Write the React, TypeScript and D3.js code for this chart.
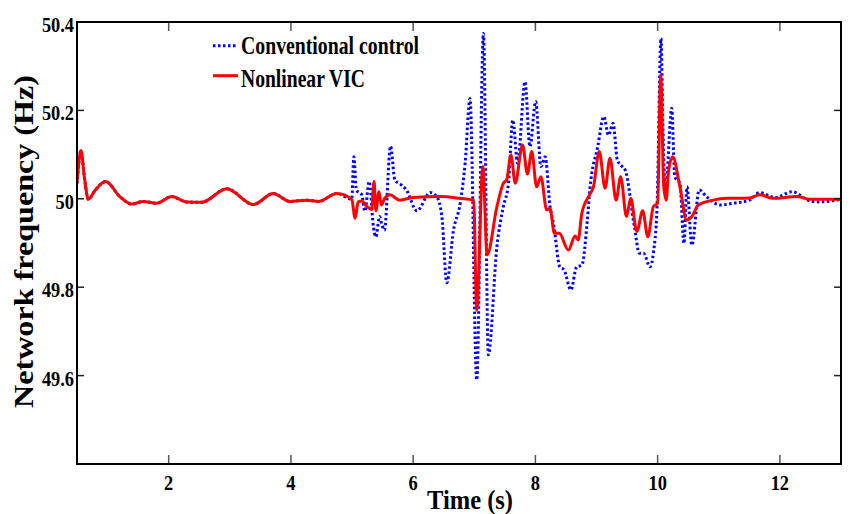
import React, { useEffect } from "react";
import * as d3 from "d3";

// ---- data (time in s, frequency in Hz) ----
const baseline: [number, number][] = [
  [0.5, 50.035], [0.565, 50.109], [0.62, 50.05], [0.685, 49.999], [0.8, 50.02],
  [0.97, 50.039], [1.2, 50.005], [1.395, 49.988], [1.585, 49.994], [1.8, 49.99],
  [2.05, 50.005], [2.29, 49.993], [2.54, 49.992], [2.95, 50.023], [3.385, 49.987],
  [3.71, 50.012], [3.985, 49.994], [4.26, 49.997], [4.45, 49.994], [4.75, 50.012],
  [4.995, 49.999],
];

const conventionalTail: [number, number][] = [
  [5.03, 50.095], [5.07, 50.02], [5.16, 50.009], [5.21, 49.972], [5.28, 50.039],
  [5.35, 49.937], [5.39, 49.914], [5.45, 49.96], [5.49, 49.941], [5.53, 49.929],
  [5.63, 50.119], [5.7, 50.043], [5.81, 50.031], [5.89, 50.02], [6.06, 49.973],
  [6.28, 50.014], [6.385, 50.005], [6.47, 49.96], [6.55, 49.81], [6.66, 49.929],
  [6.77, 49.99], [6.85, 50.08], [6.93, 50.227], [7.04, 49.59], [7.15, 50.374],
  [7.23, 49.647], [7.37, 49.892], [7.475, 49.982], [7.56, 50.035], [7.63, 50.178],
  [7.71, 50.08], [7.83, 50.265], [7.91, 50.118], [8.005, 50.22], [8.09, 50.073],
  [8.16, 50.095], [8.24, 49.982], [8.295, 49.945], [8.4, 49.846], [8.47, 49.839],
  [8.58, 49.794], [8.675, 49.846], [8.76, 49.85], [8.85, 49.952], [8.89, 50.02],
  [9.02, 50.118], [9.12, 50.186], [9.195, 50.144], [9.27, 50.171], [9.34, 50.088],
  [9.42, 50.073], [9.47, 50.065], [9.62, 49.937], [9.7, 49.877], [9.77, 49.877],
  [9.875, 49.846], [9.93, 49.877], [9.99, 49.982], [10.055, 50.363], [10.09, 50.14],
  [10.13, 50.012], [10.16, 50.065], [10.23, 50.205], [10.28, 50.05], [10.365, 50.035],
  [10.43, 49.899], [10.48, 50.027], [10.56, 49.895], [10.68, 50.02], [10.8, 50.005],
  [11.02, 49.986], [11.24, 49.99], [11.5, 49.997], [11.67, 50.014], [11.93, 50.003],
  [12.2, 50.016], [12.5, 49.995], [12.66, 49.993], [13.0, 49.999],
];

const nonlinearTail: [number, number][] = [
  [5.05, 49.956], [5.1, 49.993], [5.16, 49.995], [5.24, 49.983], [5.32, 49.976],
  [5.36, 50.039], [5.39, 49.973], [5.44, 50.016], [5.48, 49.986], [5.53, 50.0],
  [5.62, 50.009], [5.78, 49.997], [6.0, 50.003], [6.44, 50.005], [6.77, 50.001],
  [6.99, 49.997], [7.04, 49.748], [7.14, 50.073], [7.21, 49.873], [7.37, 49.982],
  [7.475, 50.035], [7.53, 50.043], [7.6, 50.099], [7.67, 50.035], [7.79, 50.122],
  [7.87, 50.056], [7.94, 50.107], [8.02, 50.027], [8.09, 50.05], [8.185, 49.975],
  [8.24, 49.978], [8.31, 49.922], [8.39, 49.922], [8.54, 49.884], [8.65, 49.916],
  [8.7, 49.907], [8.76, 49.967], [8.89, 50.01], [8.95, 50.027], [9.045, 50.107],
  [9.14, 50.024], [9.22, 50.092], [9.32, 49.997], [9.395, 50.05], [9.49, 49.96],
  [9.56, 50.001], [9.66, 49.926], [9.755, 49.973], [9.84, 49.914], [9.93, 49.982],
  [10.0, 49.99], [10.05, 50.28], [10.1, 50.027], [10.14, 49.997], [10.18, 50.065],
  [10.245, 50.095], [10.365, 50.027], [10.475, 49.952], [10.56, 49.96], [10.665, 49.986],
  [10.91, 49.997], [11.13, 50.001], [11.51, 50.002], [11.67, 50.009], [11.89, 50.001],
  [12.275, 50.005], [12.49, 49.999], [13.0, 49.999],
];

const conventional = [...baseline, ...conventionalTail];
const nonlinear = [...baseline, ...nonlinearTail];

const xTicks = [2, 4, 6, 8, 10, 12];
const yTicks = [49.6, 49.8, 50, 50.2, 50.4];
const seriesLabels = ["Conventional control", "Nonlinear VIC"];
const xTitle = "Time (s)";
const yTitle = "Network frequency (Hz)";

const W = 856;
const H = 514;
const left = 77, right = 841, top = 22, bottom = 464;
const FONT = "'Liberation Serif', 'Times New Roman', serif";

const fmt = (v: number) => (Number.isInteger(v) ? String(v) : v.toFixed(1));
// condensed width of a numeric label (digits ~9.2px, point ~4.5px)
const labelWidth = (s: string) =>
  s.split("").reduce((acc, c) => acc + (c === "." ? 4.5 : 9.2), 0);

export default function App() {
  useEffect(() => {
    document.body.style.margin = "0";
  }, []);

  const x = d3.scaleLinear().domain([0.5, 13]).range([left, right]);
  const y = d3.scaleLinear().domain([49.4, 50.4]).range([bottom, top]);
  const line = d3
    .line<[number, number]>()
    .x((d) => x(d[0]))
    .y((d) => y(d[1]))
    .curve(d3.curveMonotoneX);

  return (
    <svg width={W} height={H} style={{ display: "block", background: "#fff" }}>
      <defs>
        <clipPath id="plotclip">
          <rect x={left} y={top} width={right - left} height={bottom - top} />
        </clipPath>
      </defs>
      <rect x={0} y={0} width={W} height={H} fill="#fff" />

      <g clipPath="url(#plotclip)">
        <path
          d={line(conventional) || ""}
          fill="none"
          stroke="#0000ff"
          strokeWidth={3}
          strokeDasharray="2.5 2.5"
        />
        <path
          d={line(nonlinear) || ""}
          fill="none"
          stroke="#ff0000"
          strokeWidth={3}
          strokeLinejoin="round"
        />
      </g>

      {/* ticks */}
      {xTicks.map((t) => {
        const s = fmt(t);
        const w = labelWidth(s);
        return (
          <g key={"x" + t}>
            <line x1={x(t)} x2={x(t)} y1={bottom} y2={bottom - 9} stroke="#555" strokeWidth={1.5} />
            <line x1={x(t)} x2={x(t)} y1={top} y2={top + 9} stroke="#555" strokeWidth={1.5} />
            <text
              x={x(t) - w / 2}
              y={490}
              fontFamily={FONT}
              fontWeight="bold"
              fontSize={22}
              textLength={w}
              lengthAdjust="spacingAndGlyphs"
              fill="#000"
            >
              {s}
            </text>
          </g>
        );
      })}
      {yTicks.map((v) => {
        const s = fmt(v);
        const w = labelWidth(s);
        return (
          <g key={"y" + v}>
            <line x1={left} x2={left + 7} y1={y(v)} y2={y(v)} stroke="#222" strokeWidth={1.5} />
            <line x1={right} x2={right - 7} y1={y(v)} y2={y(v)} stroke="#222" strokeWidth={1.5} />
            <text
              x={74 - w}
              y={y(v) + 10}
              fontFamily={FONT}
              fontWeight="bold"
              fontSize={22}
              textLength={w}
              lengthAdjust="spacingAndGlyphs"
              fill="#000"
            >
              {s}
            </text>
          </g>
        );
      })}

      {/* frame */}
      <rect
        x={left}
        y={top}
        width={right - left}
        height={bottom - top}
        fill="none"
        stroke="#000"
        strokeWidth={2}
      />

      {/* axis titles */}
      <text
        x={427}
        y={509}
        fontFamily={FONT}
        fontWeight="bold"
        fontSize={28}
        textLength={86}
        lengthAdjust="spacingAndGlyphs"
        fill="#000"
      >
        {xTitle}
      </text>
      <text
        transform={`translate(33,408) rotate(-90)`}
        fontFamily={FONT}
        fontWeight="bold"
        fontSize={28}
        textLength={333}
        lengthAdjust="spacingAndGlyphs"
        fill="#000"
      >
        {yTitle}
      </text>

      {/* legend */}
      <line x1={213} x2={238} y1={45.7} y2={45.7} stroke="#0000ff" strokeWidth={3} strokeDasharray="2.5 2.5" />
      <text
        x={241}
        y={54}
        fontFamily={FONT}
        fontWeight="bold"
        fontSize={25}
        textLength={178}
        lengthAdjust="spacingAndGlyphs"
        fill="#000"
      >
        {seriesLabels[0]}
      </text>
      <line x1={213} x2={238} y1={75.7} y2={75.7} stroke="#ff0000" strokeWidth={3} />
      <text
        x={241}
        y={87}
        fontFamily={FONT}
        fontWeight="bold"
        fontSize={25}
        textLength={124}
        lengthAdjust="spacingAndGlyphs"
        fill="#000"
      >
        {seriesLabels[1]}
      </text>
    </svg>
  );
}
